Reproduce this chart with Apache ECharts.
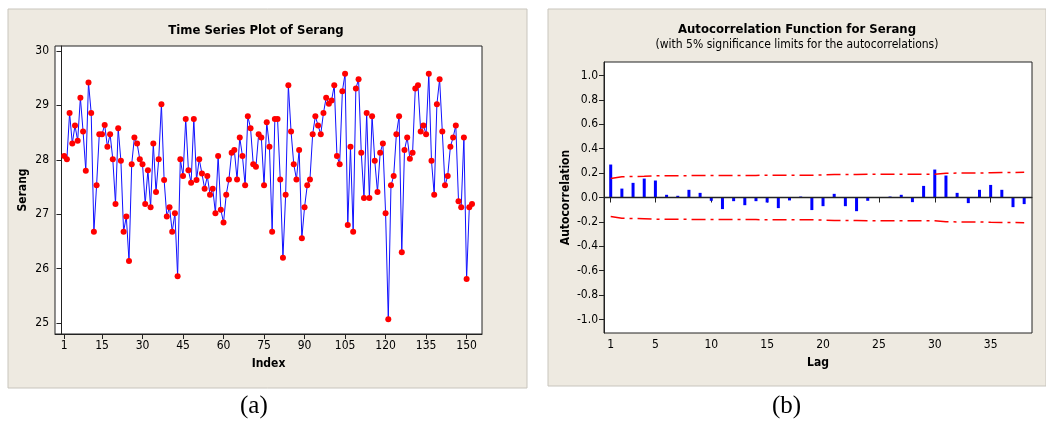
<!DOCTYPE html>
<html>
<head>
<meta charset="utf-8">
<script src="https://cdn.jsdelivr.net/npm/echarts@6/dist/echarts.min.js"></script>
<style>
html,body{margin:0;padding:0;background:#fff;}
#main{width:1046px;height:427px;}
</style>
</head>
<body>
<div id="main"></div>
<script>
var myChart = echarts.init(document.getElementById('main'));

// Serang series, index 1..152
var serang = [
	28.07,28.01,28.86,28.30,28.63,28.35,29.14,28.52,27.80,29.42,
	28.86,26.68,27.53,28.47,28.47,28.64,28.24,28.47,28.01,27.19,
	28.58,27.98,26.68,26.96,26.14,27.92,28.41,28.30,28.01,27.92,
	27.19,27.81,27.13,28.30,27.41,28.01,29.02,27.63,26.96,27.13,
	26.68,27.02,25.86,28.01,27.70,28.75,27.81,27.58,28.75,27.63,
	28.01,27.75,27.47,27.70,27.36,27.47,27.02,28.07,27.08,26.85,
	27.36,27.64,28.13,28.18,27.64,28.41,28.07,27.53,28.80,28.58,
	27.92,27.87,28.47,28.41,27.53,28.69,28.24,26.68,28.75,28.75,
	27.64,26.20,27.36,29.37,28.52,27.92,27.64,28.18,26.56,27.13,
	27.53,27.64,28.47,28.80,28.63,28.47,28.86,29.14,29.03,29.09,
	29.37,28.07,27.92,29.26,29.58,26.80,28.24,26.68,29.31,29.48,
	28.13,27.30,28.86,27.30,28.80,27.98,27.41,28.13,28.30,27.02,
	25.07,27.53,27.70,28.47,28.80,26.30,28.18,28.41,28.02,28.13,
	29.31,29.37,28.52,28.63,28.47,29.58,27.98,27.36,29.02,29.48,
	28.52,27.53,27.70,28.24,28.41,28.63,27.24,27.13,28.41,25.81,
	27.13,27.19
];
var indexTicks = [1,15,30,45,60,75,90,105,120,135,150];
var serangTicks = [25,26,27,28,29,30];

// autocorrelations, lag 1..38
var acf = [
	0.270,0.073,0.120,0.155,0.139,0.022,0.014,0.063,0.038,-0.027,
	-0.095,-0.030,-0.063,-0.030,-0.041,-0.087,-0.024,0.008,-0.103,-0.071,
	0.030,-0.071,-0.112,-0.027,0.002,0.008,0.022,-0.038,0.095,0.229,
	0.180,0.038,-0.046,0.063,0.103,0.063,-0.079,-0.054
];
var upperLimit = [
	0.155,0.170,0.172,0.174,0.177,0.179,0.179,0.179,0.180,0.180,
	0.180,0.181,0.181,0.181,0.182,0.182,0.182,0.182,0.182,0.185,
	0.188,0.188,0.189,0.190,0.190,0.190,0.190,0.190,0.190,0.191,
	0.198,0.200,0.200,0.200,0.203,0.205,0.205,0.206
];
var lowerLimit = [
	-0.155,-0.170,-0.172,-0.174,-0.177,-0.179,-0.179,-0.179,-0.180,-0.180,
	-0.180,-0.181,-0.181,-0.181,-0.182,-0.182,-0.182,-0.182,-0.182,-0.185,
	-0.188,-0.188,-0.189,-0.190,-0.190,-0.190,-0.190,-0.190,-0.190,-0.191,
	-0.198,-0.200,-0.200,-0.200,-0.203,-0.205,-0.205,-0.206
];
var lagTicks = [1,5,10,15,20,25,30,35];
var acfTicks = [-1,-0.8,-0.6,-0.4,-0.2,0,0.2,0.4,0.6,0.8,1];

var tsData = [], acfData = [], upData = [], lowData = [];
for (var i = 0; i < serang.length; i++) tsData.push([i + 1, serang[i]]);
for (var k = 0; k < acf.length; k++) {
	acfData.push([k + 1, acf[k]]);
	upData.push([k + 1, upperLimit[k]]);
	lowData.push([k + 1, lowerLimit[k]]);
}

var font = 'Liberation Sans Narrow, DejaVu Sans Condensed, Liberation Sans, sans-serif';
var lbl = {color:'#000', fontSize:12, fontFamily:font};
var nameStyle = {color:'#000', fontSize:12, fontWeight:'bold', fontFamily:font};

var option = {
	backgroundColor:'#fff',
	animation:false,
	graphic:[
		{type:'rect', z:-10, shape:{x:8, y:9, width:519, height:379}, style:{fill:'#eeeae1', stroke:'#c8c5bd', lineWidth:1}},
		{type:'rect', z:-10, shape:{x:548, y:9, width:498, height:377}, style:{fill:'#eeeae1', stroke:'#c8c5bd', lineWidth:1}},
		{type:'text', left:240, top:394, style:{text:'(a)', fontSize:25, fontFamily:'Liberation Serif, serif', fill:'#000'}},
		{type:'text', left:772, top:394, style:{text:'(b)', fontSize:25, fontFamily:'Liberation Serif, serif', fill:'#000'}}
	],
	title:[
		{text:'Time Series Plot of Serang', left:251, top:19, textAlign:'center',
			textStyle:{fontSize:13, fontWeight:'bold', color:'#000', fontFamily:font}},
		{text:'Autocorrelation Function for Serang', left:792, top:18, textAlign:'center',
			subtext:'(with 5% significance limits for the autocorrelations)', itemGap:3,
			textStyle:{fontSize:13, fontWeight:'bold', color:'#000', fontFamily:font},
			subtextStyle:{fontSize:12, color:'#000', fontFamily:font}}
	],
	grid:[
		{left:55, top:46, width:427, height:288, show:true, backgroundColor:'#fff', borderColor:'#222', borderWidth:1},
		{left:604, top:62, width:428, height:271, show:true, backgroundColor:'#fff', borderColor:'#222', borderWidth:1}
	],
	xAxis:[
		{type:'value', gridIndex:0, min:-2.4, max:155.7, name:'Index', nameLocation:'middle', nameGap:24, nameTextStyle:nameStyle,
			axisLine:{lineStyle:{color:'#222'}}, splitLine:{show:false},
			axisTick:{customValues:indexTicks, length:5, lineStyle:{color:'#222'}},
			axisLabel:Object.assign({customValues:indexTicks, margin:6}, lbl)},
		{type:'value', gridIndex:1, min:0.4, max:38.7, name:'Lag', nameLocation:'middle', nameGap:24, nameTextStyle:nameStyle,
			axisLine:{lineStyle:{color:'#222'}}, splitLine:{show:false},
			axisTick:{customValues:lagTicks, length:5, lineStyle:{color:'#222'}},
			axisLabel:Object.assign({customValues:lagTicks, margin:6}, lbl)}
	],
	yAxis:[
		{type:'value', gridIndex:0, min:24.8, max:30.09, name:'Serang', nameLocation:'middle', nameGap:26, nameTextStyle:nameStyle,
			axisLine:{show:true, lineStyle:{color:'#222'}}, splitLine:{show:false},
			axisTick:{show:true, customValues:serangTicks, length:5, lineStyle:{color:'#222'}},
			axisLabel:Object.assign({customValues:serangTicks, margin:6}, lbl)},
		{type:'value', gridIndex:1, min:-1.11, max:1.11, name:'Autocorrelation', nameLocation:'middle', nameGap:32, nameTextStyle:nameStyle,
			axisLine:{show:true, lineStyle:{color:'#222'}}, splitLine:{show:false},
			axisTick:{show:true, customValues:acfTicks, length:5, lineStyle:{color:'#222'}},
			axisLabel:Object.assign({customValues:acfTicks, margin:6, formatter:function(v){return v.toFixed(1);}}, lbl)}
	],
	series:[
		{name:'Serang', type:'line', xAxisIndex:0, yAxisIndex:0, data:tsData,
			symbol:'circle', symbolSize:6, lineStyle:{color:'#1010ff', width:1},
			itemStyle:{color:'#ff0000', borderWidth:0}},
		{name:'ACF', type:'bar', xAxisIndex:1, yAxisIndex:1, data:acfData, barWidth:3,
			itemStyle:{color:'#0000ff'},
			markLine:{silent:true, symbol:'none', label:{show:false},
				lineStyle:{color:'#222', type:'solid', width:1.3}, data:[{yAxis:0}]}},
		{name:'Upper', type:'line', xAxisIndex:1, yAxisIndex:1, data:upData, symbol:'none',
			lineStyle:{color:'#ff0000', width:1.5, type:[14,5,3,5]}},
		{name:'Lower', type:'line', xAxisIndex:1, yAxisIndex:1, data:lowData, symbol:'none',
			lineStyle:{color:'#ff0000', width:1.5, type:[14,5,3,5]}}
	]
};

myChart.setOption(option);
</script>
</body>
</html>
